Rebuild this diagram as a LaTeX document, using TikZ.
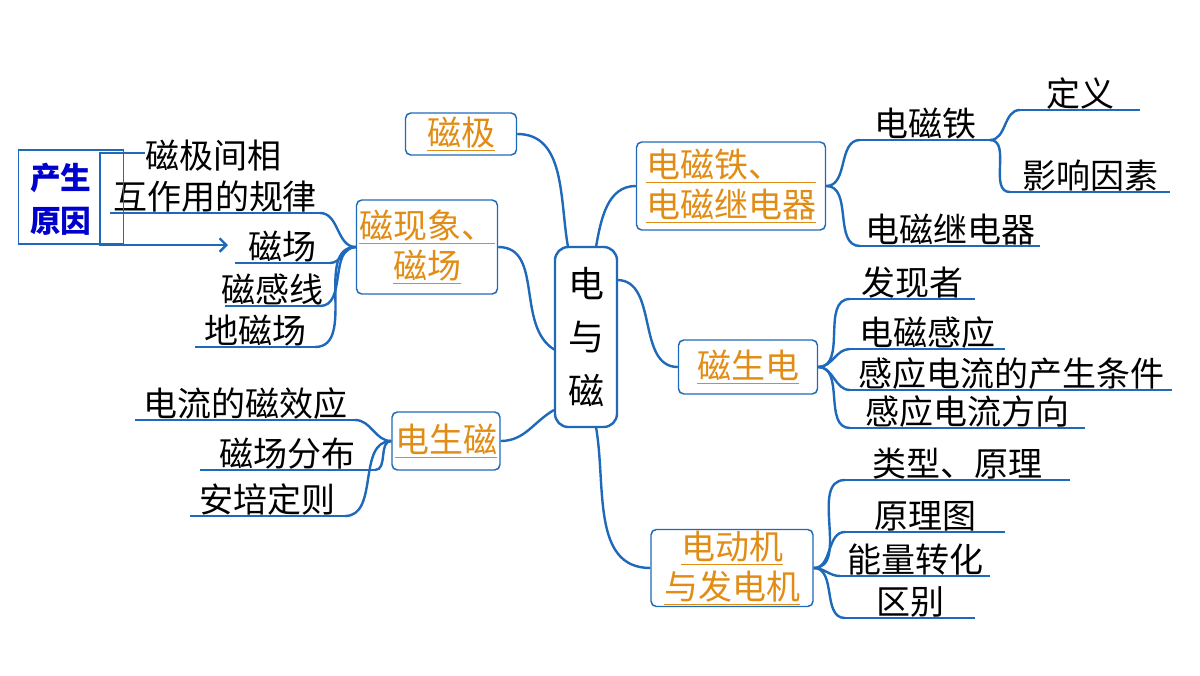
\documentclass[tikz,border=0pt]{standalone}
\usepackage{fontspec}
\setmainfont{Noto Sans CJK SC}
\usetikzlibrary{positioning,arrows.meta,calc}
\definecolor{mmblue}{RGB}{30,105,185}
\definecolor{mmorange}{RGB}{225,140,20}
\newcommand{\ul}[1]{\underline{#1}}
% leaf: name, left x, right x, underline y, text
\newcommand{\leaf}[5]{%
  \coordinate (#1-l) at (#2,#4);
  \coordinate (#1-r) at (#3,#4);
  \node[leaftext] (#1) at ($(#1-l)!0.5!(#1-r)$) {#5};
  \draw[branch] (#1-l) -- (#1-r);}
\tikzset{
  branch/.style={draw=mmblue, line width=1.8pt},
  topic/.style={draw=mmblue, line width=1.1pt, rounded corners=4pt, text=mmorange, font=\fontsize{25.5}{30}\selectfont, align=center, inner sep=0pt},
  leaftext/.style={anchor=south, inner sep=0.5pt, font=\fontsize{25.5}{29}\selectfont}
}
\begin{document}
\begin{tikzpicture}[x=0.75pt,y=-0.75pt]
\useasboundingbox (0,0) rectangle (1200,675);
% centre
\node[draw=mmblue, line width=1.8pt, rounded corners=10pt, minimum width=62*0.75pt, minimum height=180*0.75pt, align=center, font=\fontsize{27}{40}\selectfont] (root) at (586,337) {电\\与\\磁};
% topics
\node[topic, minimum width=111*0.75pt, minimum height=42*0.75pt] (ji) at (461,134) {\ul{磁极}};
\node[topic, minimum width=141*0.75pt, minimum height=94*0.75pt] (xx) at (427,247) {\ul{磁现象、}\\\ul{磁场}};
\node[topic, minimum width=108*0.75pt, minimum height=58*0.75pt] (dsc) at (446,441) {\ul{电生磁}};
\node[topic, minimum width=189*0.75pt, minimum height=88*0.75pt] (dct) at (731,186) {\ul{电磁铁、\quad}\\\ul{电磁继电器}};
\node[topic, minimum width=139*0.75pt, minimum height=54*0.75pt] (csd) at (748,367) {\ul{磁生电}};
\node[topic, minimum width=162*0.75pt, minimum height=77*0.75pt] (ddj) at (732,568) {\ul{电动机}\\\ul{与发电机}};
% centre to topics
\draw[branch] (568,247) to[out=100,in=0] (ji.east);
\draw[branch] (555,350) to[out=150,in=0] (xx.east);
\draw[branch] (554,410) to[out=210,in=0] (dsc.east);
\draw[branch] (596,247) to[out=80,in=180] (dct.west);
\draw[branch] (617,280) to[out=0,in=180] (csd.west);
\draw[branch] (596,427) to[out=280,in=180] (ddj.west);
% right leaves
\leaf{dcts}{860}{990}{140}{电磁铁}
\leaf{jdq}{860}{1040}{246}{电磁继电器}
\leaf{dy}{1020}{1140}{110}{定义}
\leaf{yx}{1010}{1170}{192}{影响因素}
\draw[branch] (dct.east) to[out=0,in=180] (dcts-l);
\draw[branch] (dct.east) to[out=0,in=180] (jdq-l);
\draw[branch] (dcts-r) to[out=0,in=180] (dy-l);
\draw[branch] (dcts-r) to[out=0,in=180] (yx-l);
\leaf{fxz}{850}{975}{299}{发现者}
\leaf{dcgy}{850}{1005}{349}{电磁感应}
\leaf{tj}{850}{1172}{390}{感应电流的产生条件}
\leaf{fx}{850}{1085}{428}{感应电流方向}
\foreach \n in {fxz,dcgy,tj,fx}
  \draw[branch] (csd.east) to[out=0,in=180] (\n-l);
\leaf{lx}{845}{1070}{480}{类型、原理}
\leaf{ylt}{845}{1005}{532}{原理图}
\leaf{nl}{840}{990}{576}{能量转化}
\leaf{qb}{845}{975}{618}{区别}
\foreach \n in {lx,ylt,nl,qb}
  \draw[branch] (ddj.east) to[out=0,in=180] (\n-l);
% left leaves
\node[leaftext, anchor=south west] (gl1) at (145,172) {磁极间相};
\leaf{gl}{110}{320}{213}{互作用的规律}
\leaf{cc}{235}{330}{263}{磁场}
\leaf{cgx}{225}{320}{306}{磁感线}
\leaf{dcc}{195}{315}{347}{地磁场}
\foreach \n in {gl,cc,cgx,dcc}
  \draw[branch] (xx.west) to[out=180,in=0] (\n-r);
\leaf{xy}{135}{355}{420}{电流的磁效应}
\leaf{fb}{200}{375}{470}{磁场分布}
\leaf{ap}{190}{345}{516}{安培定则}
\foreach \n in {xy,fb,ap}
  \draw[branch] (dsc.west) to[out=180,in=0] (\n-r);
% cause box
\node[draw=mmblue, line width=0.8pt, minimum width=105*0.75pt, minimum height=94*0.75pt] (yy) at (71,197) {};
\node[text=blue!80!black, align=center, font=\bfseries\fontsize{23}{32}\selectfont, inner sep=0pt] (yyt) at (61,199) {产生\\原因};
\coordinate (kt) at (145,153);
\coordinate (kb) at (228,245);
\draw[mmblue, line width=1.8pt, -{Straight Barb[length=5pt]}] (kt) -- (100,153) -- (100,245) -- (kb);
\end{tikzpicture}
\end{document}
